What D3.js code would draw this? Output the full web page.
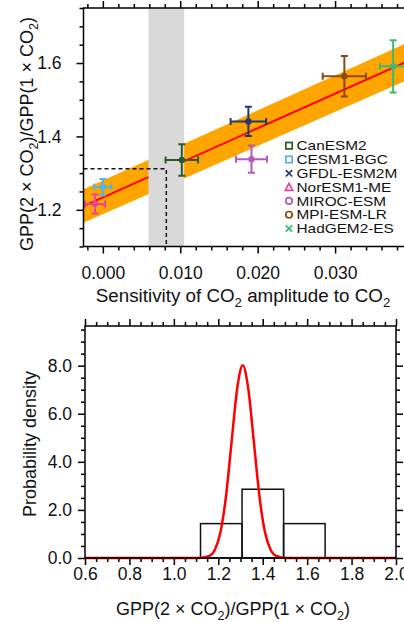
<!DOCTYPE html>
<html>
<head>
<meta charset="utf-8">
<script src="https://cdn.jsdelivr.net/npm/d3@7"></script>
<style>
body { margin: 0; background: #fff; }
svg { display: block; font-family: "Liberation Sans", Arial, Helvetica, sans-serif; }
.axis path.domain { display: none; }
.axis line { stroke: #000; stroke-width: 1.5; }
.axis text { fill: #111; }
</style>
</head>
<body>
<div id="chart"></div>
<script>
// ---- data
var models    = ["CanESM2", "CESM1-BGC", "GFDL-ESM2M", "NorESM1-ME", "MIROC-ESM", "MPI-ESM-LR", "HadGEM2-ES"];
var modelCols = ["#2b5a2b", "#58b4dc", "#25386e", "#e8449a", "#b45cb8", "#8a4a16", "#3cb878"];
var modelSym  = ["square", "square", "x", "triangle", "circle", "circle", "x"];
var sens      = [0.0102, 0.0000, 0.0188, -0.0010, 0.0192, 0.0312, 0.0375];
var sensErr   = [0.0021, 0.0011, 0.0023, 0.0013, 0.0020, 0.0028, 0.0017];
var gppRatio  = [1.336, 1.262, 1.441, 1.216, 1.338, 1.564, 1.591];
var gppErr    = [0.043, 0.022, 0.040, 0.026, 0.037, 0.055, 0.071];

// regression line and its band
var fitX  = [-0.0025, 0.040];
var fitY  = [1.210, 1.611];
var fitLo = [1.165, 1.560];
var fitHi = [1.256, 1.662];

// observed sensitivity (grey band) and the constrained value (dashed)
var obsRange = [0.0059, 0.0105];
var obsSens  = 0.0082;
var obsGpp   = 1.312;

// histogram of the models + constrained pdf
var binEdges   = [1.120, 1.307, 1.494, 1.681];
var binDensity = [1.43, 2.86, 1.43];
var pdfX = [0.60, 1.11, 1.16, 1.185, 1.21, 1.235, 1.26, 1.285, 1.31, 1.335, 1.36, 1.385, 1.41, 1.435, 1.46, 1.51, 2.00];
var pdfY = [0.00, 0.00, 0.09, 0.35, 1.08, 2.59, 4.84, 7.04, 8.02, 7.04, 4.84, 2.59, 1.08, 0.35, 0.09, 0.00, 0.00];

// ticks
var topXTicks = [0, 0.01, 0.02, 0.03];
var topXMajor = [0, 0.01, 0.02, 0.03, 0.04];
var topYTicks = [1.2, 1.4, 1.6];
var botXTicks = [0.6, 0.8, 1.0, 1.2, 1.4, 1.6, 1.8, 2.0];
var botYTicks = [0, 2, 4, 6, 8];

var W = 404, H = 622;
var svg = d3.select("#chart").append("svg").attr("width", W).attr("height", H);

// text with subscripts: parts = [[string, isSub], ...]
function richText(sel, parts, fs) {
    var shift = fs * 0.28;
    parts.forEach(function(p, i) {
        var t = sel.append("tspan").text(p[0]);
        if (p[1]) {
            t.attr("font-size", fs * 0.7).attr("dy", shift);
        } else {
            t.attr("font-size", fs);
            if (i > 0 && parts[i - 1][1]) t.attr("dy", -shift);
        }
    });
}

function minorOf(domain, step, majors) {
    return d3.range(Math.ceil(domain[0] / step - 1e-6), Math.floor(domain[1] / step + 1e-6) + 1)
        .map(function(k) { return +(k * step).toFixed(6); })
        .filter(function(v) { return !majors.some(function(m) { return Math.abs(m - v) < 1e-7; }); });
}

function styleAxis(g, fs) {
    g.attr("class", "axis").attr("font-size", fs).attr("font-family", null);
}

/*** TOP PANEL */
var p1 = {left: 83.5, right: 412.5, top: 8, bottom: 246.5};
var x1 = d3.scaleLinear().domain([-0.0025, 0.04]).range([p1.left, p1.right]);
var y1 = d3.scaleLinear().domain([1.1, 1.75]).range([p1.bottom, p1.top]);

svg.append("clipPath").attr("id", "clip1").append("rect")
    .attr("x", p1.left).attr("y", p1.top)
    .attr("width", p1.right - p1.left).attr("height", p1.bottom - p1.top);

var g1 = svg.append("g").attr("clip-path", "url(#clip1)");

var fitRows = fitX.map(function(d, i) { return {x: d, y: fitY[i], lo: fitLo[i], hi: fitHi[i]}; });

g1.append("path")
    .datum(fitRows)
    .attr("fill", "#ffa500")
    .attr("d", d3.area().x(function(d) { return x1(d.x); })
        .y0(function(d) { return y1(d.lo); }).y1(function(d) { return y1(d.hi); }));

g1.append("path")
    .datum(fitRows)
    .attr("fill", "none").attr("stroke", "#ff0000").attr("stroke-width", 2)
    .attr("d", d3.line().x(function(d) { return x1(d.x); }).y(function(d) { return y1(d.y); }));

g1.append("rect")
    .attr("x", x1(obsRange[0])).attr("y", p1.top)
    .attr("width", x1(obsRange[1]) - x1(obsRange[0]))
    .attr("height", p1.bottom - p1.top)
    .attr("fill", "#d9d9d9");

g1.append("path")
    .attr("fill", "none").attr("stroke", "#111").attr("stroke-width", 1.5)
    .attr("stroke-dasharray", "4,3")
    .attr("d", "M" + p1.left + "," + y1(obsGpp) + "H" + x1(obsSens) + "V" + p1.bottom);

// model points with error bars
var pts = models.map(function(m, i) {
    return {name: m, col: modelCols[i], x: sens[i], xe: sensErr[i], y: gppRatio[i], ye: gppErr[i]};
});

var node = g1.selectAll(".model").data(pts).enter().append("g")
    .attr("class", "model")
    .attr("stroke", function(d) { return d.col; })
    .attr("fill", function(d) { return d.col; })
    .attr("stroke-width", 2);

var cap = 3.5;
node.append("path").attr("fill", "none").attr("d", function(d) {
    var xa = x1(d.x - d.xe), xb = x1(d.x + d.xe), xc = x1(d.x);
    var ya = y1(d.y - d.ye), yb = y1(d.y + d.ye), yc = y1(d.y);
    return "M" + xa + "," + yc + "H" + xb +
        "M" + xc + "," + ya + "V" + yb +
        "M" + xa + "," + (yc - cap) + "V" + (yc + cap) +
        "M" + xb + "," + (yc - cap) + "V" + (yc + cap) +
        "M" + (xc - cap) + "," + ya + "H" + (xc + cap) +
        "M" + (xc - cap) + "," + yb + "H" + (xc + cap);
});
node.append("circle")
    .attr("cx", function(d) { return x1(d.x); })
    .attr("cy", function(d) { return y1(d.y); })
    .attr("r", 3.2).attr("stroke", "none");

// legend
var leg = svg.append("g").attr("transform", "translate(289,145.7)");
var legRow = leg.selectAll(".leg").data(pts).enter().append("g")
    .attr("transform", function(d, i) { return "translate(0," + (i * 13.8) + ")"; });

legRow.each(function(d, i) {
    var g = d3.select(this).append("g")
        .attr("fill", "none").attr("stroke", d.col).attr("stroke-width", 1.7);
    var s = 3.2;
    if (modelSym[i] === "square") g.append("rect").attr("x", -s).attr("y", -s).attr("width", 2 * s).attr("height", 2 * s);
    else if (modelSym[i] === "circle") g.append("circle").attr("r", s);
    else if (modelSym[i] === "triangle") g.append("path").attr("d", "M0," + (-s - 0.5) + "L" + (s + 0.5) + "," + s + "L" + (-s - 0.5) + "," + s + "Z");
    else g.append("path").attr("d", "M" + (-s) + "," + (-s) + "L" + s + "," + s + "M" + (-s) + "," + s + "L" + s + "," + (-s));
});
legRow.append("text")
    .attr("transform", "translate(7.5,4.6) scale(1.24,1)")
    .attr("font-size", 12.4).attr("fill", "#111")
    .text(function(d) { return d.name; });

// axes of the top panel
var gx1 = svg.append("g").attr("transform", "translate(0," + p1.bottom + ")")
    .call(d3.axisBottom(x1).tickValues(topXTicks).tickSize(7).tickPadding(13).tickFormat(d3.format(".3f")));
styleAxis(gx1, 17.5);
styleAxis(svg.append("g").attr("transform", "translate(0," + p1.bottom + ")")
    .call(d3.axisBottom(x1).tickValues(minorOf(x1.domain(), 0.002, topXMajor)).tickSize(4).tickFormat("")), 17);
styleAxis(svg.append("g").attr("transform", "translate(0," + p1.top + ")")
    .call(d3.axisTop(x1).tickValues(topXMajor).tickSize(7).tickFormat("")), 17);
styleAxis(svg.append("g").attr("transform", "translate(0," + p1.top + ")")
    .call(d3.axisTop(x1).tickValues(minorOf(x1.domain(), 0.002, topXMajor)).tickSize(4).tickFormat("")), 17);

var gy1 = svg.append("g").attr("transform", "translate(" + p1.left + ",0)")
    .call(d3.axisLeft(y1).tickValues(topYTicks).tickSize(7).tickPadding(15).tickFormat(d3.format(".1f")));
styleAxis(gy1, 17.5);
styleAxis(svg.append("g").attr("transform", "translate(" + p1.left + ",0)")
    .call(d3.axisLeft(y1).tickValues(minorOf(y1.domain(), 0.05, topYTicks)).tickSize(4).tickFormat("")), 17);

svg.append("rect")
    .attr("x", p1.left).attr("y", p1.top)
    .attr("width", p1.right - p1.left).attr("height", p1.bottom - p1.top)
    .attr("fill", "none").attr("stroke", "#000").attr("stroke-width", 1.5);

richText(svg.append("text").attr("x", 243).attr("y", 301.5).attr("text-anchor", "middle").attr("fill", "#111"),
    [["Sensitivity of CO", false], ["2", true], [" amplitude to CO", false], ["2", true]], 18.8);

richText(svg.append("text").attr("transform", "translate(33,134) rotate(-90)").attr("text-anchor", "middle").attr("fill", "#111"),
    [["GPP(2 × CO", false], ["2", true], [")/GPP(1 × CO", false], ["2", true], [")", false]], 18);

/*** BOTTOM PANEL */
var p2 = {left: 85, right: 396, top: 326, bottom: 558};
var x2 = d3.scaleLinear().domain([0.6, 2.0]).range([p2.left, p2.right]);
var y2 = d3.scaleLinear().domain([0, 9.65]).range([p2.bottom, p2.top]);

svg.append("clipPath").attr("id", "clip2").append("rect")
    .attr("x", p2.left).attr("y", p2.top - 2)
    .attr("width", p2.right - p2.left).attr("height", p2.bottom - p2.top + 4);

var g2 = svg.append("g").attr("clip-path", "url(#clip2)");

var bins = binDensity.map(function(d, i) { return {x0: binEdges[i], x1: binEdges[i + 1], v: d}; });

g2.selectAll(".bar").data(bins).enter().append("rect")
    .attr("class", "bar")
    .attr("x", function(d) { return x2(d.x0); })
    .attr("y", function(d) { return y2(d.v); })
    .attr("width", function(d) { return x2(d.x1) - x2(d.x0); })
    .attr("height", function(d) { return y2(0) - y2(d.v); })
    .attr("fill", "none").attr("stroke", "#111").attr("stroke-width", 1.5);

var pdfRows = pdfX.map(function(d, i) { return {x: d, y: pdfY[i]}; });
g2.append("path")
    .datum(pdfRows)
    .attr("fill", "none").attr("stroke", "#ff0000").attr("stroke-width", 2.5)
    .attr("d", d3.line().curve(d3.curveMonotoneX)
        .x(function(d) { return x2(d.x); }).y(function(d) { return y2(d.y); }));

var minorX2 = minorOf(x2.domain(), 0.05, botXTicks);
var minorY2 = minorOf(y2.domain(), 0.5, botYTicks);

var gx2 = svg.append("g").attr("transform", "translate(0," + p2.bottom + ")")
    .call(d3.axisBottom(x2).tickValues(botXTicks).tickSize(7).tickPadding(3).tickFormat(d3.format(".1f")));
styleAxis(gx2, 17.5);
styleAxis(svg.append("g").attr("transform", "translate(0," + p2.bottom + ")")
    .call(d3.axisBottom(x2).tickValues(minorX2).tickSize(4).tickFormat("")), 17);
styleAxis(svg.append("g").attr("transform", "translate(0," + p2.top + ")")
    .call(d3.axisTop(x2).tickValues(botXTicks).tickSize(7).tickFormat("")), 17);
styleAxis(svg.append("g").attr("transform", "translate(0," + p2.top + ")")
    .call(d3.axisTop(x2).tickValues(minorX2).tickSize(4).tickFormat("")), 17);

var gy2 = svg.append("g").attr("transform", "translate(" + p2.left + ",0)")
    .call(d3.axisLeft(y2).tickValues(botYTicks).tickSize(7).tickPadding(6).tickFormat(d3.format(".1f")));
styleAxis(gy2, 17.5);
styleAxis(svg.append("g").attr("transform", "translate(" + p2.left + ",0)")
    .call(d3.axisLeft(y2).tickValues(minorY2).tickSize(4).tickFormat("")), 17);
styleAxis(svg.append("g").attr("transform", "translate(" + p2.right + ",0)")
    .call(d3.axisRight(y2).tickValues(botYTicks).tickSize(7).tickFormat("")), 17);
styleAxis(svg.append("g").attr("transform", "translate(" + p2.right + ",0)")
    .call(d3.axisRight(y2).tickValues(minorY2).tickSize(4).tickFormat("")), 17);

svg.append("rect")
    .attr("x", p2.left).attr("y", p2.top)
    .attr("width", p2.right - p2.left).attr("height", p2.bottom - p2.top)
    .attr("fill", "none").attr("stroke", "#000").attr("stroke-width", 1.5);

richText(svg.append("text").attr("x", 233).attr("y", 614.5).attr("text-anchor", "middle").attr("fill", "#111"),
    [["GPP(2 × CO", false], ["2", true], [")/GPP(1 × CO", false], ["2", true], [")", false]], 18);

svg.append("text")
    .attr("transform", "translate(36,444) rotate(-90)")
    .attr("text-anchor", "middle").attr("font-size", 18).attr("fill", "#111")
    .text("Probability density");
</script>
</body>
</html>
